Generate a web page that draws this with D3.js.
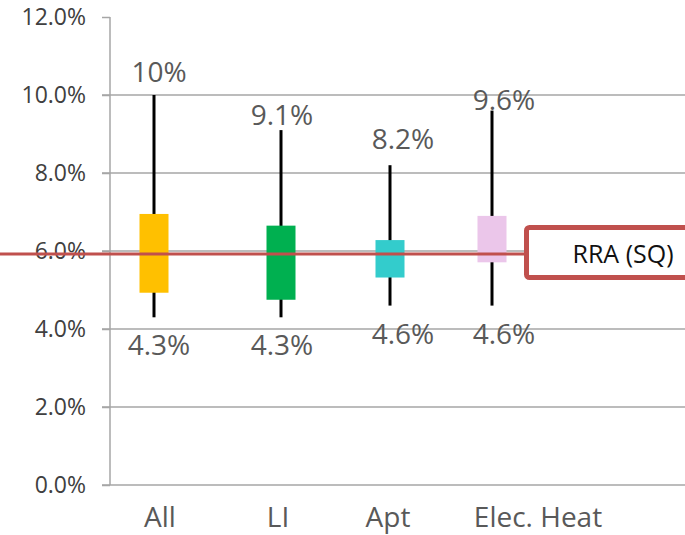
<!DOCTYPE html>
<html>
<head>
<meta charset="utf-8">
<script src="https://cdn.jsdelivr.net/npm/d3@7"></script>
<style>
  html, body { margin: 0; padding: 0; background: #fff; }
  svg { display: block; }
  text { font-family: "Open Sans", "Noto Sans", sans-serif; }
</style>
</head>
<body>
<svg id="chart" width="685" height="535"></svg>
<script>
// Data: range (whiskers) and inter-quartile box per segment
const categories = ["All", "LI", "Apt", "Elec. Heat"];
const lowValues  = [4.3, 4.3, 4.6, 4.6];
const highValues = [10.0, 9.1, 8.2, 9.6];
const boxLow     = [4.93, 4.75, 5.32, 5.71];
const boxHigh    = [6.95, 6.65, 6.28, 6.90];
const highLabels = ["10%", "9.1%", "8.2%", "9.6%"];
const lowLabels  = ["4.3%", "4.3%", "4.6%", "4.6%"];
const yTicks     = [0, 2, 4, 6, 8, 10, 12];
const rraValue   = 5.92;
const rraLabel   = "RRA (SQ)";

// Layout
const slotX      = [154, 281, 390, 492];   // horizontal slot of each segment
const catLabelDx = [6, -3, -2, 46];        // category label nudges
const valLabelDx = [5, 1, 13, 12];         // value label nudges
const topLabelDy = [-13, -5, -16, -1];
const colors     = ["#FFC000", "#00B050", "#33CCCC", "#EBC6EA"];

const svg = d3.select("#chart");
const W = 685;

const y = d3.scaleLinear().domain([0, 12]).range([485, 17]);
const x = d3.scaleOrdinal().domain(categories).range(slotX);
const axisX = 110, tickStart = 102;

// Gridlines (every step except the top one, which is only a tick)
svg.append("g").selectAll("line")
  .data(yTicks.filter(t => t < 12))
  .join("line")
  .attr("x1", tickStart).attr("x2", W)
  .attr("y1", d => y(d)).attr("y2", d => y(d))
  .attr("stroke", "#A6A6A6").attr("stroke-width", 1.5);

// Value axis
const yAxis = d3.axisLeft(y)
  .tickValues(yTicks)
  .tickSize(axisX - tickStart)
  .tickPadding(16)
  .tickFormat(d => d3.format(".1f")(d) + "%");
const gAxis = svg.append("g").attr("transform", `translate(${axisX},0)`).call(yAxis);
gAxis.select(".domain").attr("stroke", "#A6A6A6").attr("stroke-width", 1.5)
  .attr("d", `M0,${y(12)}V${y(0)}`);
gAxis.selectAll(".tick line").attr("stroke", "#A6A6A6").attr("stroke-width", 1.5);
gAxis.selectAll(".tick text")
  .attr("fill", "#404040")
  .style("font-size", "23px")
  .style("font-family", "'Open Sans', sans-serif");

// Whiskers
svg.append("g").selectAll("line")
  .data(categories)
  .join("line")
  .attr("x1", d => x(d)).attr("x2", d => x(d))
  .attr("y1", (d, i) => y(highValues[i]))
  .attr("y2", (d, i) => y(lowValues[i]))
  .attr("stroke", "#000").attr("stroke-width", 3);

// Boxes
const boxW = 29;
svg.append("g").selectAll("rect")
  .data(categories)
  .join("rect")
  .attr("x", d => x(d) - boxW / 2)
  .attr("width", boxW)
  .attr("y", (d, i) => y(boxHigh[i]))
  .attr("height", (d, i) => y(boxLow[i]) - y(boxHigh[i]))
  .attr("fill", (d, i) => colors[i]);

// Value labels
const vl = svg.append("g").attr("fill", "#595959").style("font-size", "28px")
  .attr("text-anchor", "middle");
vl.selectAll("text.hi")
  .data(categories)
  .join("text").attr("class", "hi")
  .attr("x", (d, i) => x(d) + valLabelDx[i])
  .attr("y", (d, i) => y(highValues[i]) + topLabelDy[i])
  .text((d, i) => highLabels[i]);
vl.selectAll("text.lo")
  .data(categories)
  .join("text").attr("class", "lo")
  .attr("x", (d, i) => x(d) + valLabelDx[i])
  .attr("y", (d, i) => y(lowValues[i]) + 38)
  .text((d, i) => lowLabels[i]);

// Category labels
svg.append("g").attr("fill", "#595959").style("font-size", "28px")
  .attr("text-anchor", "middle")
  .selectAll("text")
  .data(categories)
  .join("text")
  .attr("x", (d, i) => x(d) + catLabelDx[i])
  .attr("y", 527)
  .text(d => d);

// Reference line and its callout
const calloutX = 526.5;
svg.append("line")
  .attr("x1", 0).attr("x2", calloutX)
  .attr("y1", y(rraValue)).attr("y2", y(rraValue))
  .attr("stroke", "#C0504D").attr("stroke-width", 3);

const callout = svg.append("g");
callout.append("rect")
  .attr("x", calloutX).attr("y", 227.5)
  .attr("width", 200).attr("height", 50)
  .attr("rx", 3)
  .attr("fill", "#fff")
  .attr("stroke", "#C0504D").attr("stroke-width", 5);
callout.append("text")
  .attr("x", 623).attr("y", 263)
  .attr("text-anchor", "middle")
  .attr("fill", "#111")
  .style("font-size", "25px")
  .text(rraLabel);
</script>
</body>
</html>
